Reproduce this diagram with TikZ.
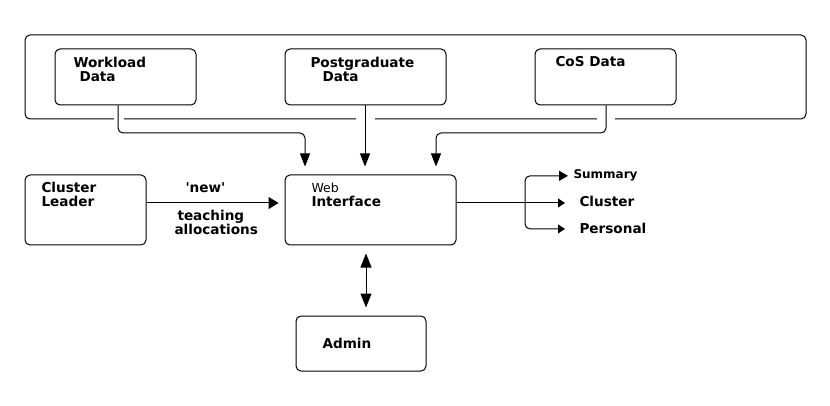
\documentclass[tikz,border=0pt]{standalone}
\usepackage{fontspec}
\setmainfont{DejaVu Sans}
\usetikzlibrary{arrows.meta}
\begin{document}
\begin{tikzpicture}[x=1pt,y=-1pt,line width=1pt,
  box/.style={draw,rounded corners=5pt,inner sep=0pt},
  txt/.style={anchor=base west,inner sep=0pt,align=left,font=\bfseries\fontsize{13.6}{14}\selectfont},
  arr/.style={-{Triangle[length=13pt,width=10pt]}}]
\useasboundingbox (0,0) rectangle (830,406);
% boxes
\node[box,minimum width=781pt,minimum height=84pt] (OUT) at (415.5,77) {};
\node[box,minimum width=141pt,minimum height=56pt] (WL) at (125.5,77) {};
\node[box,minimum width=161pt,minimum height=56pt] (PG) at (365.5,77) {};
\node[box,minimum width=141pt,minimum height=56pt] (CS) at (605.5,77) {};
\node[box,minimum width=121pt,minimum height=70pt] (CL) at (85.5,210) {};
\node[box,minimum width=171pt,minimum height=70pt] (WI) at (370.5,210) {};
\node[box,minimum width=130pt,minimum height=55pt] (AD) at (361,343.5) {};
% texts
\node[txt] (WLt) at (73,82) {Workload\\\hspace*{6pt}Data};
\node[txt] (PGt) at (310,82) {Postgraduate\\\hspace*{12pt}Data};
\node[txt] (CSt) at (555,67) {CoS Data};
\node[txt] (CLt) at (41,207) {Cluster\\Leader};
\node[txt] (WIt) at (311,207) {{\mdseries\fontsize{12.5}{14}\selectfont Web}\\Interface};
\node[txt] (ADt) at (322,348) {Admin};
\node[txt] (NEW) at (185,193) {\textquotesingle new\textquotesingle};
\node[txt,font=\bfseries\fontsize{13.6}{13}\selectfont] (TA) at (174,235) {\hspace*{3pt}teaching\\allocations};
\node[txt,font=\bfseries\fontsize{12}{14}\selectfont] (SUM) at (573,179) {Summary};
\node[txt] (CLU) at (579,207) {Cluster};
\node[txt] (PER) at (579,234) {Personal};
% gaps in the frame
\fill[white] (114,115) rectangle (124,123);
\fill[white] (356,115) rectangle (375,123);
\fill[white] (597,115) rectangle (615,123);
% data feeds
\draw[arr,rounded corners=5pt,shorten >=8pt] (WL.south -| 118,0) |- (305,133) -- (WI.north -| 305,0);
\draw[arr,shorten >=8pt] (PG.south -| 365,0) -- (WI.north -| 365,0);
\draw[arr,rounded corners=5pt,shorten >=8pt] (CS.south -| 606,0) |- (436,133) -- (WI.north -| 436,0);
\draw[-{Triangle[length=10pt,width=12pt]},shorten >=6pt] (CL.east |- 0,203) -- (WI.west |- 0,203);
\draw[{Triangle[length=14pt,width=11pt]}-{Triangle[length=14pt,width=11pt]},shorten <=8pt,shorten >=8pt] (WI.south -| 366,0) -- (AD.north -| 366,0);
% outputs
\coordinate (sp) at (525,203);
\draw (WI.east |- sp) -- (sp);
\draw[-{Triangle[length=9pt,width=10pt]},rounded corners=5pt,shorten >=5pt] (sp) |- (SUM.west);
\draw[-{Triangle[length=7pt,width=9pt]},shorten >=14pt] (sp) -- (sp -| CLU.west);
\draw[-{Triangle[length=7pt,width=9pt]},rounded corners=5pt,shorten >=14pt] (sp) |- (PER.west);
\end{tikzpicture}
\end{document}
